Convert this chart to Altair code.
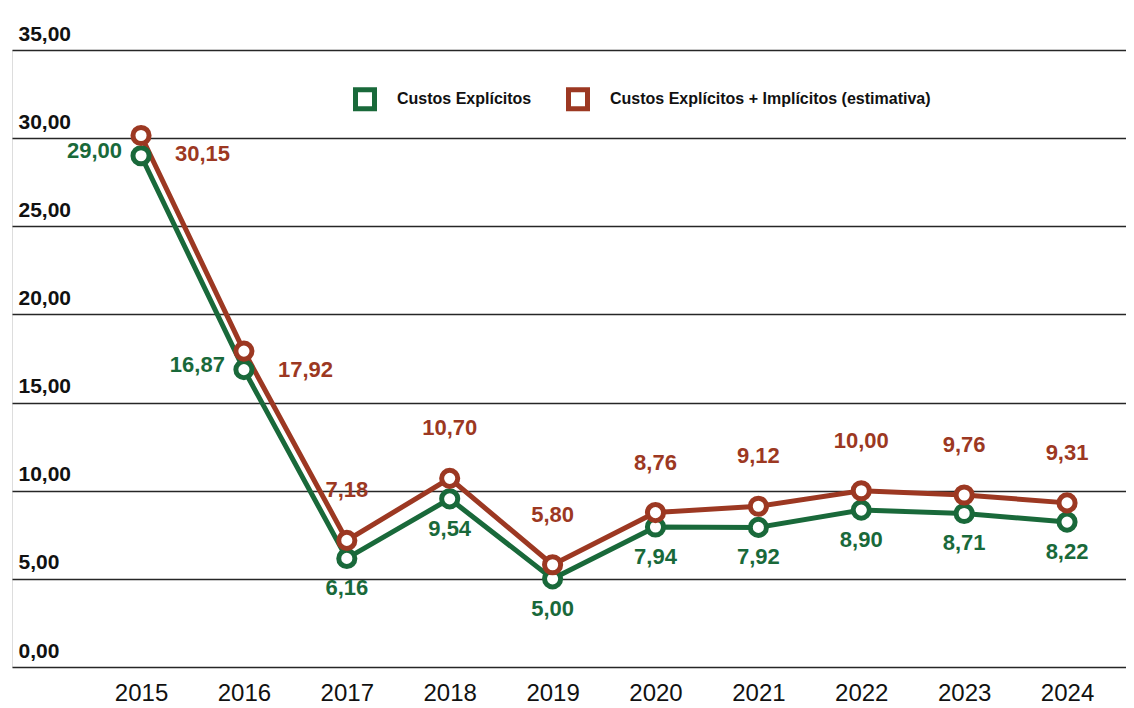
import altair as alt
import pandas as pd

years = [2015, 2016, 2017, 2018, 2019, 2020, 2021, 2022, 2023, 2024]
explicit_costs = [29.00, 16.87, 6.16, 9.54, 5.00, 7.94, 7.92, 8.90, 8.71, 8.22]
total_costs = [30.15, 17.92, 7.18, 10.70, 5.80, 8.76, 9.12, 10.00, 9.76, 9.31]
series_names = ["Custos Explícitos", "Custos Explícitos + Implícitos (estimativa)"]
explicit_label_side = ["left", "left", "below", "below", "below", "below", "below", "below", "below", "below"]
total_label_side = ["right", "right", "above", "above", "above", "above", "above", "above", "above", "above"]
y_ticks = [0, 5, 10, 15, 20, 25, 30, 35]

GREEN = "#19693A"
RED = "#9C3822"
BOLDFONT = "Liberation Sans, Arial, sans-serif"

rows = []
for y, v, s in zip(years, explicit_costs, explicit_label_side):
    rows.append({"year": y, "value": v, "series": series_names[0], "side": s})
for y, v, s in zip(years, total_costs, total_label_side):
    rows.append({"year": y, "value": v, "series": series_names[1], "side": s})
df = pd.DataFrame(rows)

x_enc = alt.X(
    "year:Q",
    scale=alt.Scale(domain=[2013.746, 2024.573], nice=False, zero=False),
    axis=alt.Axis(
        values=years, format="d", title=None, grid=False, domain=False, ticks=False,
        labelFont="Liberation Sans, Arial, sans-serif", labelFontSize=24, labelColor="#111111",
        labelPadding=14, labelFlush=False,
    ),
)
y_enc = alt.Y(
    "value:Q",
    scale=alt.Scale(domain=[0, 35], nice=False),
    axis=alt.Axis(
        values=y_ticks, title=None, grid=True, gridColor="#262626", gridWidth=1.4,
        domain=False, ticks=False, labelAlign="left", labelBaseline="alphabetic",
        labelPadding=-6, labelOffset=-10, labelFont=BOLDFONT, labelFontSize=21,
        labelFontWeight="bold", labelColor="#111111", labelFlush=False,
        labelExpr="replace(format(datum.value, '.2f'), '.', ',')",
    ),
)
color_enc = alt.Color(
    "series:N",
    scale=alt.Scale(domain=series_names, range=[GREEN, RED]),
    legend=alt.Legend(
        orient="none", legendX=341, legendY=37, direction="horizontal", title=None,
        symbolType="square", symbolSize=361, symbolStrokeWidth=5, symbolFillColor="white",
        labelFont=BOLDFONT, labelFontSize=16, labelFontWeight="bold", labelColor="#111111",
        labelLimit=0, columnPadding=26, labelOffset=20, padding=0,
    ),
)

base = alt.Chart(df).encode(x=x_enc, y=y_enc)

lines = base.mark_line(strokeWidth=5).encode(color=color_enc, order="year:Q")
points = base.mark_point(
    shape="circle", filled=False, fill="white", fillOpacity=1, size=260, strokeWidth=5, opacity=1
).encode(color=color_enc)

lab = base.transform_calculate(label="replace(format(datum.value, '.2f'), '.', ',')")
font_kw = dict(font=BOLDFONT, fontSize=22, fontWeight="bold")


def text_layer(series, side, color, **kw):
    return lab.transform_filter(
        (alt.datum.series == series) & (alt.datum.side == side)
    ).mark_text(color=color, **font_kw, **kw).encode(text="label:N")


texts = [
    text_layer(series_names[0], "left", GREEN, align="right", baseline="middle", dx=-19, dy=-5),
    text_layer(series_names[0], "below", GREEN, align="center", baseline="middle", dy=30),
    text_layer(series_names[1], "right", RED, align="left", baseline="middle", dx=34, dy=19),
    text_layer(series_names[1], "above", RED, align="center", baseline="middle", dy=-50),
]

chart = alt.layer(lines, points, *texts).properties(
    width=1114,
    height=617,
    autosize=alt.AutoSizeParams(type="none"),
    padding={"left": 4, "top": 42, "right": 0, "bottom": 37},
).configure_view(
    strokeOpacity=0, strokeWidth=0
).configure_axis(
    domain=False
).configure(background="white")

chart.save("out.html", embed_options={"renderer": "svg", "actions": False})
